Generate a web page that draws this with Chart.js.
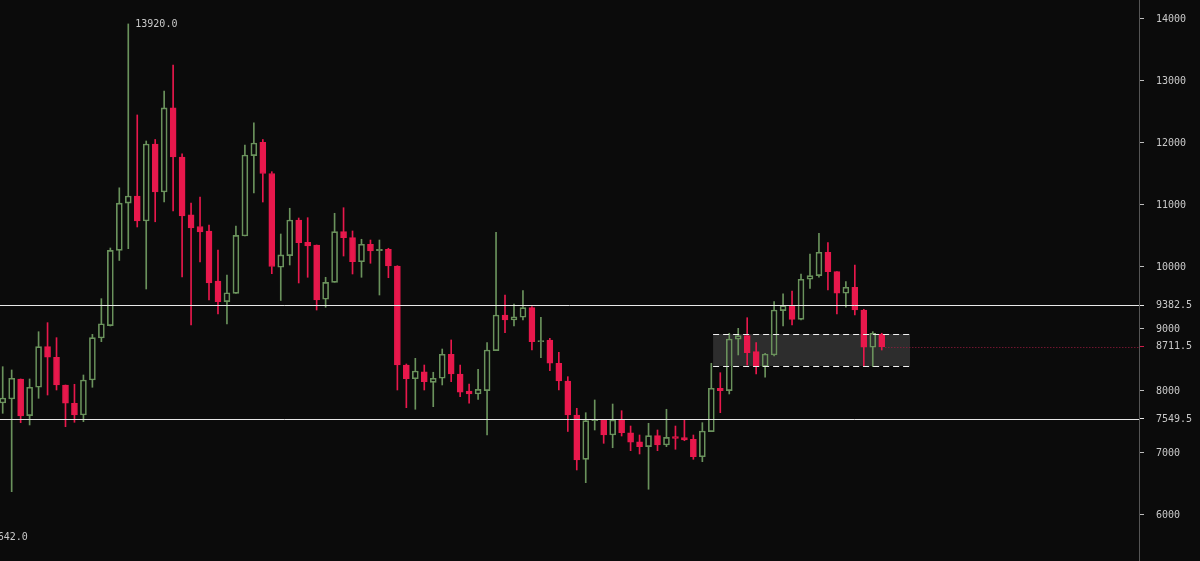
<!DOCTYPE html>
<html>
<head>
<meta charset="utf-8">
<script src="https://cdn.jsdelivr.net/npm/chart.js@4.4.1/dist/chart.umd.min.js"></script>
<style>
  html, body { margin: 0; padding: 0; background: #0b0b0b; }
  #wrap { width: 1200px; height: 561px; position: relative; }
</style>
</head>
<body>
<div id="wrap"><canvas id="chartVelas"></canvas></div>
<script>
// OHLC, one candle per slot
const opens = [7806, 7871, 8194, 7602, 8060, 8715, 8544, 8097, 7802, 7613,
  8177, 8855, 9055, 10268, 11029, 11145, 10742, 11984, 11210, 12565,
  11774, 10843, 10653, 10581, 9774, 9442, 9574, 10500, 11797, 12010,
  11508, 9995, 10182, 10758, 10398, 10355, 9479, 9753, 10569, 10473,
  10085, 10366, 10263, 10285, 10016, 8419, 8198, 8311, 8140, 8205,
  8592, 8274, 8000, 7952, 8005, 8650, 9226, 9145, 9189, 9344,
  8795, 8823, 8447, 8161, 7613, 6898, 7521, 7532, 7290, 7532,
  7327, 7182, 7102, 7279, 7129, 7263, 7247, 7221, 6940, 7344,
  8044, 8005, 8834, 8892, 8634, 8392, 8581, 9295, 9376, 9156,
  9802, 9860, 10237, 9924, 9576, 9673, 9306, 8705, 8915];
const highs = [8392, 8339, 8194, 8194, 8956, 9102, 8860, 8097, 8108, 8258,
  8914, 9489, 10306, 11277, 13920, 12452, 12032, 12056, 12839, 13258,
  11823, 11032, 11129, 10677, 10274, 9871, 10661, 11968, 12323, 12056,
  11537, 10532, 10947, 10790, 10795, 10355, 9834, 10866, 10956, 10581,
  10447, 10435, 10435, 10302, 10021, 8435, 8527, 8419, 8302, 8677,
  8823, 8419, 8113, 8350, 8779, 10560, 9548, 9403, 9618, 9360,
  9189, 8850, 8624, 8231, 7721, 7650, 7855, 7532, 7790, 7682,
  7435, 7290, 7479, 7371, 7705, 7435, 7532, 7290, 7489, 8447,
  8295, 8931, 9011, 9182, 8779, 8608, 9440, 9565, 9613, 9887,
  10210, 10544, 10392, 9924, 9763, 10032, 9318, 8956, 8931];
const lows = [7640, 6376, 7489, 7452, 7882, 7935, 8016, 7424, 7495, 7505,
  8060, 8795, 9048, 10105, 10295, 10645, 9645, 10729, 11048, 10903,
  9839, 9065, 10081, 9468, 9242, 9081, 9574, 10500, 11194, 11048,
  9892, 9460, 10032, 9742, 9834, 9306, 9350, 9753, 10177, 9887,
  9834, 10060, 9548, 9827, 8016, 7731, 7705, 8016, 7747, 8097,
  8150, 7908, 7802, 7866, 7290, 8650, 8940, 9048, 9145, 8661,
  8537, 8327, 8016, 7347, 6726, 6521, 7371, 7156, 7085, 7274,
  7037, 6984, 6415, 7037, 7102, 7060, 7198, 6898, 6860, 7344,
  7650, 7952, 8581, 8419, 8274, 8221, 8565, 9048, 9065, 9145,
  9656, 9834, 9629, 9242, 9350, 9226, 8392, 8392, 8661];
const closes = [7887, 8205, 7597, 8060, 8715, 8544, 8097, 7802, 7613, 8177,
  8860, 9084, 10268, 11029, 11145, 10742, 11984, 11210, 12565, 11774,
  10823, 10629, 10565, 9742, 9442, 9585, 10510, 11806, 12000, 11508,
  10008, 10194, 10758, 10392, 10339, 9468, 9753, 10569, 10473, 10085,
  10366, 10258, 10285, 10016, 8419, 8198, 8323, 8150, 8205, 8592,
  8274, 7979, 7952, 8027, 8661, 9226, 9145, 9198, 9344, 8795,
  8811, 8447, 8161, 7613, 6887, 7521, 7544, 7290, 7532, 7327,
  7173, 7102, 7279, 7129, 7253, 7237, 7210, 6940, 7355, 8044,
  8005, 8839, 8892, 8618, 8392, 8597, 9306, 9376, 9156, 9802,
  9860, 10237, 9924, 9576, 9673, 9306, 8705, 8931, 8711.5];

const yTicks = [6000, 7000, 8000, 9000, 10000, 11000, 12000, 13000, 14000];
const levelLines = [9382.5, 7549.5];
const lastPrice = 8711.5;
const zoneLow = 8403;
const zoneHigh = 8919;
const zoneFrom = 79.2;
const zoneTo = 101.15;
const highMark = [14, 13920];
const lowMark = [-2, 5642];

const green = '#6a925c';
const red = '#e8184c';
const idx = opens.map((_, i) => i);
const isUp = idx.map(i => closes[i] >= opens[i]);
const colors = isUp.map(u => u ? green : red);
const bodyTop = idx.map(i => Math.max(opens[i], closes[i]));
const bodyBot = idx.map(i => Math.min(opens[i], closes[i]));

const overlays = {
  id: 'overlays',
  beforeDatasetsDraw(chart) {
    const { ctx, scales: { x, y } } = chart;
    const x1 = x.getPixelForValue(zoneFrom), x2 = x.getPixelForValue(zoneTo);
    const y1 = y.getPixelForValue(zoneHigh), y2 = y.getPixelForValue(zoneLow);
    ctx.save();
    ctx.fillStyle = 'rgba(255,255,255,0.14)';
    ctx.fillRect(x1, y1, x2 - x1, y2 - y1);
    ctx.restore();
  },
  afterDatasetsDraw(chart) {
    const { ctx, chartArea, scales: { x, y } } = chart;
    ctx.save();
    // horizontal levels
    ctx.strokeStyle = '#e8e8e8';
    ctx.lineWidth = 1;
    levelLines.forEach(v => {
      const py = Math.round(y.getPixelForValue(v)) + 0.5;
      ctx.beginPath();
      ctx.moveTo(chartArea.left, py);
      ctx.lineTo(chartArea.right, py);
      ctx.stroke();
    });
    // zone dashed borders
    const x1 = x.getPixelForValue(zoneFrom), x2 = x.getPixelForValue(zoneTo);
    ctx.setLineDash([6, 4]);
    ctx.lineWidth = 1.2;
    ctx.strokeStyle = '#f2f2f2';
    [zoneHigh, zoneLow].forEach(v => {
      const py = Math.round(y.getPixelForValue(v)) + 0.5;
      ctx.beginPath();
      ctx.moveTo(x1, py);
      ctx.lineTo(x2, py);
      ctx.stroke();
    });
    // last price dotted
    const py = Math.round(y.getPixelForValue(lastPrice)) + 0.5;
    ctx.setLineDash([1, 2]);
    ctx.lineWidth = 1;
    ctx.strokeStyle = '#a11b40';
    ctx.beginPath();
    ctx.moveTo(x.getPixelForValue(opens.length - 1 + 0.4), py);
    ctx.lineTo(chartArea.right, py);
    ctx.stroke();
    ctx.setLineDash([]);
    // extreme labels
    ctx.fillStyle = '#c9c9c9';
    ctx.font = '10px "DejaVu Sans Mono"';
    ctx.textBaseline = 'middle';
    [highMark, lowMark].forEach(([i, v]) => {
      ctx.fillText(v.toFixed(1), x.getPixelForValue(i) + 7, y.getPixelForValue(v));
    });
    ctx.restore();
  }
};

const chartVelas = new Chart(document.getElementById('chartVelas'), {
  type: 'bar',
  data: {
    datasets: [
      {
        label: 'cuerpo',
        data: idx.map(i => ({ x: i, y: [bodyBot[i], bodyTop[i]] })),
        backgroundColor: isUp.map(u => u ? 'rgba(0,0,0,0)' : red),
        borderColor: colors,
        borderWidth: 1,
        borderSkipped: false,
        barThickness: 6,
        grouped: false,
        order: 0
      },
      {
        label: 'mecha alta',
        data: idx.map(i => ({ x: i, y: [bodyTop[i], highs[i]] })),
        backgroundColor: colors,
        barThickness: 1,
        grouped: false,
        order: 1
      },
      {
        label: 'mecha baja',
        data: idx.map(i => ({ x: i, y: [lows[i], bodyBot[i]] })),
        backgroundColor: colors,
        barThickness: 1,
        grouped: false,
        order: 1
      }
    ]
  },
  options: {
    responsive: true,
    maintainAspectRatio: false,
    animation: false,
    layout: { padding: 0 },
    plugins: { legend: { display: false }, tooltip: { enabled: false } },
    scales: {
      x: {
        type: 'linear',
        display: false,
        offset: false,
        min: -0.301,
        max: 126.68
      },
      y: {
        position: 'right',
        min: 5258,
        max: 14306,
        afterBuildTicks: s => {
          s.ticks = yTicks.concat(levelLines, [lastPrice]).map(v => ({ value: v }));
        },
        afterFit: s => {
          s.width = 61;
          s.paddingTop = 0;
          s.paddingBottom = 0;
        },
        grid: {
          drawOnChartArea: false,
          drawTicks: true,
          tickLength: 5,
          tickColor: c => c.tick && c.tick.value === lastPrice ? '#d01c48'
            : (c.tick && levelLines.includes(c.tick.value) ? '#e8e8e8' : '#bdbdbd')
        },
        border: { color: '#555555', width: 1 },
        ticks: {
          autoSkip: false,
          color: '#c9c9c9',
          padding: 12,
          font: { family: 'DejaVu Sans Mono', size: 10 },
          callback: v => (levelLines.includes(v) || v === lastPrice) ? v.toFixed(1) : String(v)
        }
      }
    }
  },
  plugins: [overlays]
});
</script>
</body>
</html>
